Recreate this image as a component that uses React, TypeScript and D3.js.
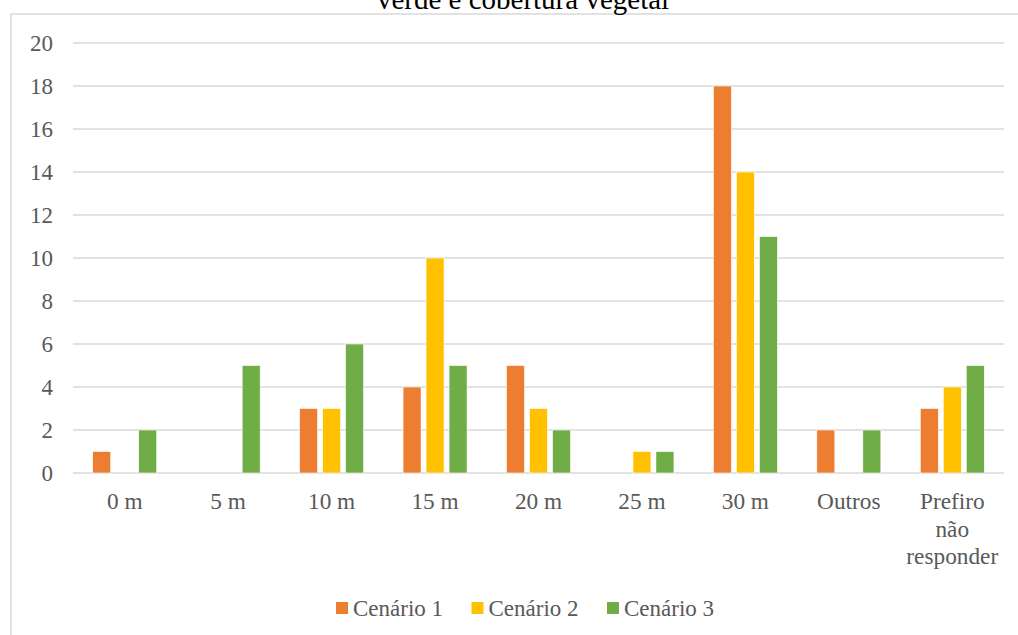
import React from "react";
import * as d3 from "d3";

const categories: string[][] = [
  ["0 m"],
  ["5 m"],
  ["10 m"],
  ["15 m"],
  ["20 m"],
  ["25 m"],
  ["30 m"],
  ["Outros"],
  ["Prefiro", "não", "responder"],
];
const seriesNames = ["Cenário 1", "Cenário 2", "Cenário 3"];
const cenario1 = [1, 0, 3, 4, 5, 0, 18, 2, 3];
const cenario2 = [0, 0, 3, 10, 3, 1, 14, 0, 4];
const cenario3 = [2, 5, 6, 5, 2, 1, 11, 2, 5];
const yTicks = [0, 2, 4, 6, 8, 10, 12, 14, 16, 18, 20];
const titleText = "verde e cobertura vegetal";

const colors = ["#ED7D31", "#FFC000", "#70AD47"];
const W = 1018;
const H = 635;
const FONT = "'Liberation Serif', 'Times New Roman', serif";
const TEXT = "#595959";
const GRID = "#D9D9D9";

export default function App() {
  const series = [cenario1, cenario2, cenario3];
  const keys = categories.map((c) => c.join(" "));
  const x = d3.scaleBand<string>().domain(keys).range([73, 1004]).padding(0);
  const inner = d3
    .scaleBand<string>()
    .domain(seriesNames)
    .range([0, 69])
    .paddingInner(5 / 23)
    .paddingOuter(2.5 / 23);
  const y = d3.scaleLinear().domain([0, 20]).range([473, 43]);
  const groupOffset = (x.bandwidth() - 69) / 2;
  const ts: React.CSSProperties = { fontFamily: FONT };

  return (
    <svg width={W} height={H} style={{ position: "absolute", left: 0, top: 0, background: "#fff", fontFamily: FONT }}>
      <rect x={0} y={0} width={W} height={H} fill="#fff" />
      <rect x={11} y={14} width={W + 20} height={H + 20} fill="#fff" stroke={GRID} strokeWidth={1.5} />
      <text x={523} y={8.5} textAnchor="middle" fontSize={29} fill="#000" style={ts}>
        {titleText}
      </text>
      {yTicks.map((t) => (
        <line key={t} x1={73} x2={1004} y1={y(t)} y2={y(t)} stroke={GRID} strokeWidth={1.5} />
      ))}
      {yTicks.map((t) => (
        <text key={"l" + t} x={53} y={y(t)} dy="0.34em" textAnchor="end" fontSize={23} fill={TEXT} style={ts}>
          {t}
        </text>
      ))}
      {series.map((vals, si) =>
        vals.map((v, ci) =>
          v > 0 ? (
            <rect
              key={si + "-" + ci}
              x={(x(keys[ci]) as number) + groupOffset + (inner(seriesNames[si]) as number)}
              y={y(v)}
              width={inner.bandwidth()}
              height={y(0) - y(v)}
              fill={colors[si]}
              stroke="#fff"
              strokeWidth={0.6}
            />
          ) : null
        )
      )}
      {categories.map((lines, ci) => (
        <text
          key={"x" + ci}
          x={(x(keys[ci]) as number) + x.bandwidth() / 2}
          y={509}
          textAnchor="middle"
          fontSize={23.3}
          fill={TEXT}
          style={ts}
        >
          {lines.map((ln, li) => (
            <tspan key={li} x={(x(keys[ci]) as number) + x.bandwidth() / 2} dy={li === 0 ? 0 : 27.5}>
              {ln}
            </tspan>
          ))}
        </text>
      ))}
      {seriesNames.map((n, i) => {
        const lx = 336 + i * 135.5;
        return (
          <g key={n}>
            <rect x={lx} y={602} width={12} height={12} fill={colors[i]} />
            <text x={lx + 17} y={616} fontSize={23} fill={TEXT} style={ts}>
              {n}
            </text>
          </g>
        );
      })}
    </svg>
  );
}
